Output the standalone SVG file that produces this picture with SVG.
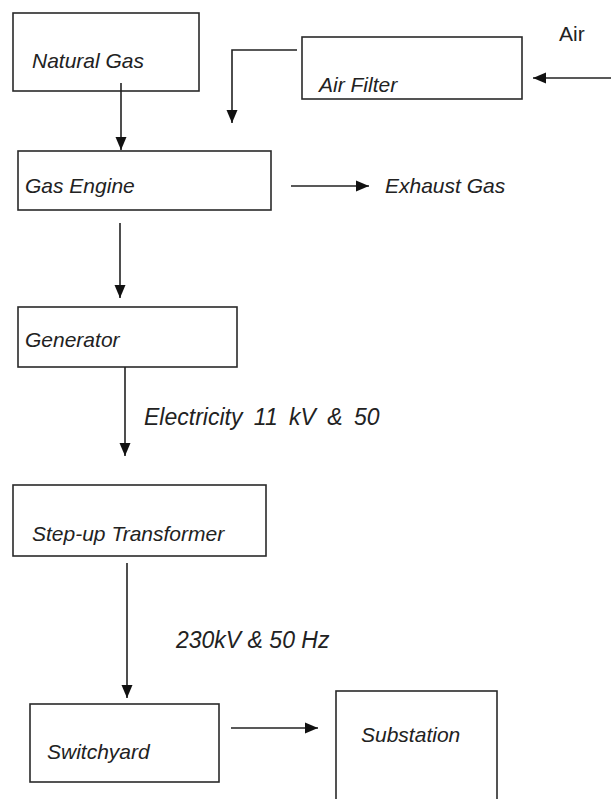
<svg xmlns="http://www.w3.org/2000/svg" width="611" height="799" viewBox="0 0 611 799">
<style>
.box{fill:#fff;stroke:#2a2a2a;stroke-width:1.6}
.lbl{font-family:"Liberation Sans",Arial,sans-serif;font-size:21px;font-style:italic;fill:#222}
.big{font-size:23px}
.plain{font-family:"Liberation Sans",Arial,sans-serif;font-size:21px;fill:#222}
.conn{fill:none;stroke:#222;stroke-width:1.6}
</style>
<defs>
<marker id="arr" markerUnits="userSpaceOnUse" markerWidth="14" markerHeight="12" refX="13" refY="6" orient="auto">
<path d="M0,0.5 L13,6 L0,11.5 z" fill="#111"/>
</marker>
</defs>
<rect width="611" height="799" fill="#fff"/>
<g id="natural-gas"><rect class="box" x="13" y="13" width="186" height="78"/><text class="lbl" x="32" y="68">Natural Gas</text></g>
<g id="air-filter"><rect class="box" x="302" y="37" width="220" height="62"/><text class="lbl" x="319" y="92">Air Filter</text></g>
<g id="air"><text class="plain" x="559" y="41">Air</text></g>
<g id="gas-engine"><rect class="box" x="18" y="151" width="253" height="59"/><text class="lbl" x="25" y="193">Gas Engine</text></g>
<g id="exhaust-gas"><text class="lbl" x="385" y="193">Exhaust Gas</text></g>
<g id="generator"><rect class="box" x="18" y="307" width="219" height="60"/><text class="lbl" x="25" y="347">Generator</text></g>
<g id="step-up-transformer"><rect class="box" x="13" y="485" width="253" height="71"/><text class="lbl" x="32" y="541">Step-up Transformer</text></g>
<g id="switchyard"><rect class="box" x="30" y="704" width="189" height="78"/><text class="lbl" x="47" y="759">Switchyard</text></g>
<g id="substation"><rect class="box" x="336" y="691" width="161" height="130"/><text class="lbl" x="361" y="742">Substation</text></g>
<g id="connectors">
<path class="conn" d="M121,83 V150" marker-end="url(#arr)"/>
<path class="conn" d="M297,50 H232 V123" marker-end="url(#arr)"/>
<path class="conn" d="M611,78 H533" marker-end="url(#arr)"/>
<path class="conn" d="M291,186 H369" marker-end="url(#arr)"/>
<path class="conn" d="M120,223 V298" marker-end="url(#arr)"/>
<path class="conn" d="M125,367 V456" marker-end="url(#arr)"/>
<path class="conn" d="M127,563 V698" marker-end="url(#arr)"/>
<path class="conn" d="M231,728 H318" marker-end="url(#arr)"/>
<text class="lbl big" x="144" y="425" word-spacing="5">Electricity 11 kV &amp; 50</text>
<text class="lbl big" x="176" y="648">230kV &amp; 50 Hz</text>
</g>
</svg>
